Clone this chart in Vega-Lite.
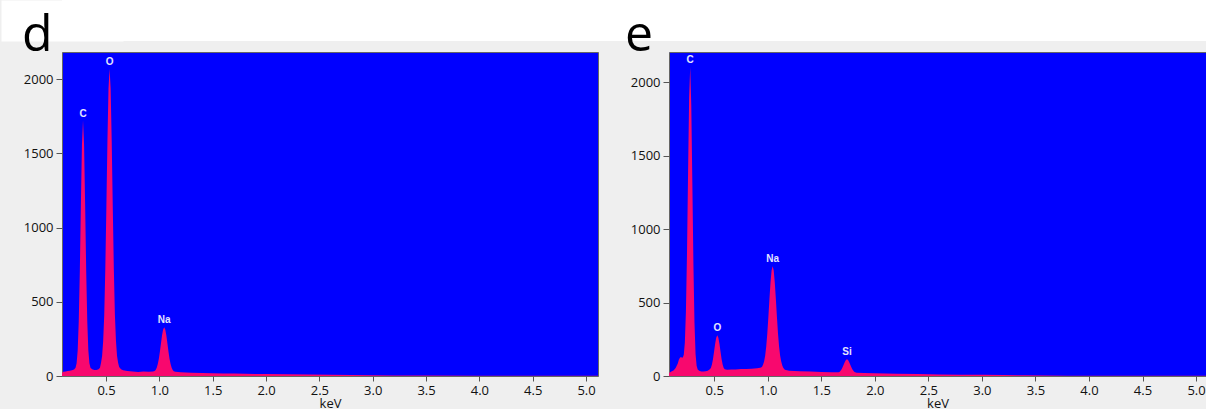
{
  "$schema": "https://vega.github.io/schema/vega-lite/v6.json",
  "background": "#efefef",
  "padding": 0,
  "config": {
    "view": {"stroke": null},
    "axis": {"grid": false, "domain": false, "tickColor": "#555", "labelFont": "Open Sans", "labelFontSize": 13, "labelColor": "#111", "titleFont": "Open Sans", "titleFontSize": 13, "titleFontWeight": "normal", "titleColor": "#111"}
  },
  "datasets": {
    "letters": [{"panel": "d", "label": "d"}, {"panel": "e", "label": "e"}],
    "d": [
      {"keV":0.087,"counts":22},{"keV":0.10,"counts":28},{"keV":0.12,"counts":31},{"keV":0.14,"counts":33},{"keV":0.16,"counts":35},{"keV":0.18,"counts":38},{"keV":0.20,"counts":44},{"keV":0.214,"counts":56},{"keV":0.224,"counts":86},{"keV":0.234,"counts":172},{"keV":0.244,"counts":367},{"keV":0.254,"counts":703},{"keV":0.264,"counts":1150},{"keV":0.274,"counts":1555},{"keV":0.284,"counts":1720},{"keV":0.294,"counts":1555},{"keV":0.304,"counts":1150},{"keV":0.314,"counts":703},{"keV":0.324,"counts":367},{"keV":0.334,"counts":172},{"keV":0.344,"counts":86},{"keV":0.354,"counts":56},{"keV":0.37,"counts":46},{"keV":0.39,"counts":40},{"keV":0.41,"counts":41},{"keV":0.43,"counts":46},{"keV":0.443,"counts":55},{"keV":0.453,"counts":90},{"keV":0.463,"counts":135},{"keV":0.473,"counts":236},{"keV":0.483,"counts":410},{"keV":0.493,"counts":721},{"keV":0.503,"counts":1138},{"keV":0.513,"counts":1584},{"keV":0.523,"counts":1936},{"keV":0.533,"counts":2070},{"keV":0.543,"counts":1936},{"keV":0.553,"counts":1584},{"keV":0.563,"counts":1138},{"keV":0.573,"counts":721},{"keV":0.583,"counts":410},{"keV":0.593,"counts":236},{"keV":0.603,"counts":135},{"keV":0.613,"counts":90},{"keV":0.623,"counts":60},{"keV":0.64,"counts":45},{"keV":0.66,"counts":38},{"keV":0.70,"counts":33},{"keV":0.75,"counts":30},{"keV":0.80,"counts":27},{"keV":0.85,"counts":30},{"keV":0.90,"counts":28},{"keV":0.94,"counts":31},{"keV":0.955,"counts":34},{"keV":0.965,"counts":41},{"keV":0.975,"counts":55},{"keV":0.985,"counts":80},{"keV":0.995,"counts":117},{"keV":1.005,"counts":165},{"keV":1.015,"counts":221},{"keV":1.025,"counts":275},{"keV":1.035,"counts":314},{"keV":1.045,"counts":328},{"keV":1.055,"counts":314},{"keV":1.065,"counts":275},{"keV":1.075,"counts":221},{"keV":1.085,"counts":165},{"keV":1.095,"counts":117},{"keV":1.105,"counts":80},{"keV":1.115,"counts":55},{"keV":1.125,"counts":41},{"keV":1.135,"counts":32},{"keV":1.15,"counts":28},{"keV":1.2,"counts":25},{"keV":1.3,"counts":22},{"keV":1.4,"counts":21},{"keV":1.5,"counts":19},{"keV":1.6,"counts":17},{"keV":1.7,"counts":16},{"keV":1.8,"counts":15},{"keV":1.9,"counts":14},{"keV":2.0,"counts":13},{"keV":2.2,"counts":12},{"keV":2.4,"counts":10},{"keV":2.6,"counts":9},{"keV":2.8,"counts":7},{"keV":3.0,"counts":5},{"keV":3.2,"counts":4},{"keV":3.5,"counts":3},{"keV":4.0,"counts":2},{"keV":4.5,"counts":1},{"keV":5.0,"counts":1},{"keV":5.112,"counts":1}
    ],
    "dl": [{"keV":0.284,"counts":1720,"label":"C"},{"keV":0.533,"counts":2070,"label":"O"},{"keV":1.045,"counts":328,"label":"Na"}],
    "e": [
      {"keV":0.078,"counts":22},{"keV":0.09,"counts":25},{"keV":0.10,"counts":30},{"keV":0.12,"counts":38},{"keV":0.14,"counts":55},{"keV":0.16,"counts":85},{"keV":0.17,"counts":110},{"keV":0.18,"counts":125},{"keV":0.19,"counts":130},{"keV":0.20,"counts":124},{"keV":0.208,"counts":128},{"keV":0.216,"counts":144},{"keV":0.226,"counts":228},{"keV":0.236,"counts":437},{"keV":0.246,"counts":831},{"keV":0.256,"counts":1380},{"keV":0.266,"counts":1896},{"keV":0.276,"counts":2104},{"keV":0.286,"counts":1846},{"keV":0.296,"counts":1320},{"keV":0.306,"counts":765},{"keV":0.316,"counts":365},{"keV":0.326,"counts":150},{"keV":0.336,"counts":70},{"keV":0.346,"counts":45},{"keV":0.36,"counts":35},{"keV":0.38,"counts":30},{"keV":0.40,"counts":30},{"keV":0.42,"counts":32},{"keV":0.44,"counts":36},{"keV":0.459,"counts":46},{"keV":0.469,"counts":55},{"keV":0.479,"counts":79},{"keV":0.489,"counts":116},{"keV":0.499,"counts":166},{"keV":0.509,"counts":219},{"keV":0.519,"counts":261},{"keV":0.529,"counts":277},{"keV":0.539,"counts":261},{"keV":0.549,"counts":219},{"keV":0.559,"counts":166},{"keV":0.569,"counts":116},{"keV":0.579,"counts":79},{"keV":0.589,"counts":55},{"keV":0.599,"counts":46},{"keV":0.62,"counts":42},{"keV":0.66,"counts":44},{"keV":0.70,"counts":45},{"keV":0.75,"counts":47},{"keV":0.80,"counts":48},{"keV":0.85,"counts":50},{"keV":0.90,"counts":52},{"keV":0.93,"counts":57},{"keV":0.946,"counts":62},{"keV":0.956,"counts":76},{"keV":0.966,"counts":98},{"keV":0.976,"counts":138},{"keV":0.986,"counts":201},{"keV":0.996,"counts":290},{"keV":1.006,"counts":401},{"keV":1.016,"counts":524},{"keV":1.026,"counts":637},{"keV":1.036,"counts":718},{"keV":1.046,"counts":747},{"keV":1.056,"counts":718},{"keV":1.066,"counts":637},{"keV":1.076,"counts":524},{"keV":1.086,"counts":401},{"keV":1.096,"counts":290},{"keV":1.106,"counts":201},{"keV":1.116,"counts":138},{"keV":1.126,"counts":98},{"keV":1.136,"counts":72},{"keV":1.146,"counts":55},{"keV":1.16,"counts":42},{"keV":1.2,"counts":35},{"keV":1.3,"counts":32},{"keV":1.4,"counts":30},{"keV":1.5,"counts":27},{"keV":1.6,"counts":25},{"keV":1.66,"counts":26},{"keV":1.67,"counts":28},{"keV":1.68,"counts":35},{"keV":1.69,"counts":46},{"keV":1.70,"counts":61},{"keV":1.71,"counts":79},{"keV":1.72,"counts":96},{"keV":1.73,"counts":109},{"keV":1.74,"counts":114},{"keV":1.75,"counts":109},{"keV":1.76,"counts":96},{"keV":1.77,"counts":79},{"keV":1.78,"counts":61},{"keV":1.79,"counts":46},{"keV":1.80,"counts":35},{"keV":1.81,"counts":28},{"keV":1.83,"counts":22},{"keV":1.9,"counts":20},{"keV":2.0,"counts":18},{"keV":2.2,"counts":15},{"keV":2.4,"counts":13},{"keV":2.6,"counts":11},{"keV":2.8,"counts":9},{"keV":3.0,"counts":8},{"keV":3.2,"counts":6},{"keV":3.4,"counts":5},{"keV":3.6,"counts":4},{"keV":3.8,"counts":2},{"keV":4.0,"counts":1},{"keV":4.5,"counts":1},{"keV":5.093,"counts":1}
    ],
    "el": [{"keV":0.276,"counts":2104,"label":"C"},{"keV":0.529,"counts":277,"label":"O"},{"keV":1.046,"counts":747,"label":"Na"},{"keV":1.74,"counts":114,"label":"Si"}]
  },
  "bounds": "flush",
  "spacing": 11,
  "vconcat": [
    {
      "width": 1206,
      "height": 41,
      "view": {"fill": "#ffffff", "stroke": null},
      "data": {"name": "letters"},
      "mark": {"type": "text", "align": "left", "baseline": "alphabetic", "font": "Open Sans", "fontSize": 50, "color": "#000", "dx": -40, "dy": 10},
      "encoding": {
        "x": {"field": "panel", "type": "nominal", "bandPosition": 0, "scale": {"type": "band", "paddingInner": 0, "paddingOuter": 0}, "axis": null},
        "y": {"datum": 0, "type": "quantitative", "scale": {"domain": [0, 1]}, "axis": {"title": null, "labels": false, "ticks": false, "domain": true, "domainColor": "#ffffff", "domainWidth": 122, "domainCap": "butt", "minExtent": 0}},
        "text": {"field": "label"}
      }
    },
    {
      "bounds": "flush",
      "spacing": 71,
      "hconcat": [
        {
          "width": 536,
          "height": 324,
          "view": {"fill": "#0000ff", "stroke": "#666", "strokeWidth": 1},
          "layer": [
            {
              "data": {"name": "d"},
              "mark": {"type": "area", "color": "#f8086e", "clip": true},
              "encoding": {
                "x": {"field": "keV", "type": "quantitative", "scale": {"domain": [0.087, 5.112], "nice": false, "zero": false}, "axis": {"title": "keV", "values": [0.5,1,1.5,2,2.5,3,3.5,4,4.5,5], "format": ".1f", "tickSize": 5, "labelPadding": 3, "titlePadding": 0, "labelFlush": false}},
                "y": {"field": "counts", "type": "quantitative", "scale": {"domain": [0, 2182], "nice": false}, "axis": {"title": null, "values": [0,500,1000,1500,2000], "format": "d", "tickSize": 6, "labelPadding": 3, "minExtent": 61}}
              }
            },
            {
              "data": {"name": "dl"},
              "mark": {"type": "text", "font": "Liberation Sans", "fontSize": 10, "fontWeight": "bold", "color": "#e4e4ff", "baseline": "alphabetic", "dy": -4},
              "encoding": {
                "x": {"field": "keV", "type": "quantitative"},
                "y": {"field": "counts", "type": "quantitative"},
                "text": {"field": "label"}
              }
            }
          ]
        },
        {
          "width": 537,
          "height": 324,
          "view": {"fill": "#0000ff", "stroke": "#666", "strokeWidth": 1},
          "layer": [
            {
              "data": {"name": "e"},
              "mark": {"type": "area", "color": "#f8086e", "clip": true},
              "encoding": {
                "x": {"field": "keV", "type": "quantitative", "scale": {"domain": [0.078, 5.093], "nice": false, "zero": false}, "axis": {"title": "keV", "values": [0.5,1,1.5,2,2.5,3,3.5,4,4.5,5], "format": ".1f", "tickSize": 5, "labelPadding": 3, "titlePadding": 0, "labelFlush": false}},
                "y": {"field": "counts", "type": "quantitative", "scale": {"domain": [0, 2206], "nice": false}, "axis": {"title": null, "values": [0,500,1000,1500,2000], "format": "d", "tickSize": 6, "labelPadding": 3}}
              }
            },
            {
              "data": {"name": "el"},
              "mark": {"type": "text", "font": "Liberation Sans", "fontSize": 10, "fontWeight": "bold", "color": "#e4e4ff", "baseline": "alphabetic", "dy": -4},
              "encoding": {
                "x": {"field": "keV", "type": "quantitative"},
                "y": {"field": "counts", "type": "quantitative"},
                "text": {"field": "label"}
              }
            }
          ]
        }
      ]
    }
  ]
}
